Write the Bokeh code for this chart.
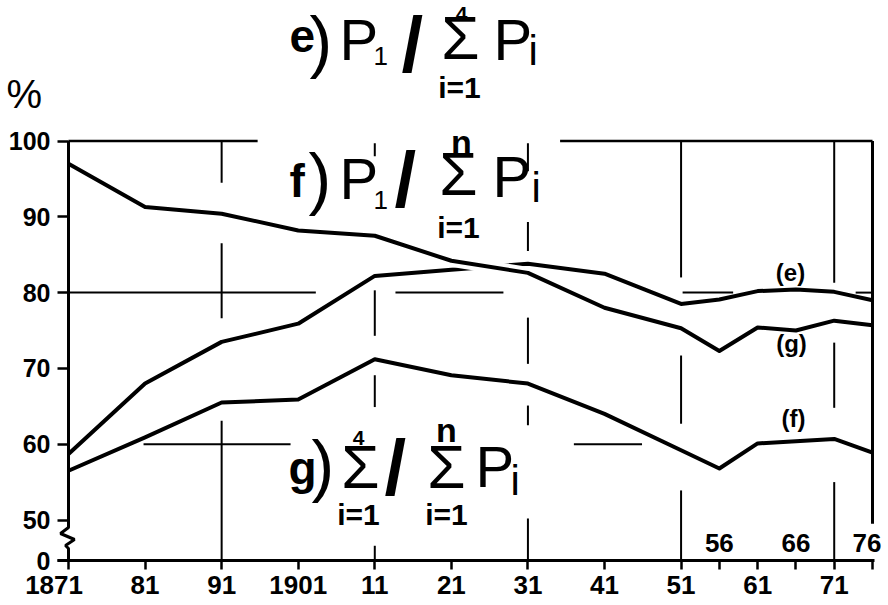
from bokeh.plotting import figure
from bokeh.models import Range1d, FixedTicker
from bokeh.core.properties import value
from bokeh.embed import file_html
from bokeh.resources import INLINE

# ---------------- data ----------------
YEARS = [1871, 1881, 1891, 1901, 1911, 1921, 1931, 1941, 1951, 1956, 1961, 1966, 1971, 1976]
# line that rises from ~59 % and ends labelled (e)
SERIES_E = [58.7, 68.0, 73.5, 75.9, 82.2, 83.0, 83.8, 82.5, 78.5, 79.1, 80.2, 80.4, 80.1, 79.0]
# line that falls from ~97 % and ends labelled (g)
SERIES_G = [97.0, 91.3, 90.4, 88.2, 87.5, 84.2, 82.6, 78.0, 75.3, 72.3, 75.4, 75.0, 76.3, 75.7]
# bottom line labelled (f)
SERIES_F = [56.5, 60.9, 65.5, 65.9, 71.2, 69.1, 68.0, 64.0, 59.2, 56.8, 60.1, 60.4, 60.7, 58.9]

NBSP = "\u00a0"
X_TICKS = [1871, 1881, 1891, 1901, 1911, 1921, 1931, 1941, 1951, 1961, 1971, 1956, 1966, 1976]
X_TICK_LABELS = ["1871" + NBSP * 4, "81", "91", "1901", "11", "21", "31", "41", "51", "61", "71", "", "", ""]
X_UPPER_TICKS = [1956, 1966, 1976]
X_UPPER_LABELS = ["56", "66", "76"]
Y_TICKS = [50, 60, 70, 80, 90, 100]
Y_ZERO_LABEL = "0"
UNIT_LABEL = "%"

# ---------------- layout helpers (page pixels == canvas pixels) ----------------
FONT = "Liberation Sans"
W, H = 888, 605
PXY = 804 / 105.0               # px per year  (1871 -> x=68, 1976 -> x=872)
PXV = 7.58                      # px per percent (100 -> y=140.5)


def X(img_x):
    return 1871 + (img_x - 68) / PXY


def Y(img_y):
    return 100 - (img_y - 140.5) / PXV


Y0 = Y(560)                      # broken axis: "0" sits on the x axis at y=560

# frame covers the whole canvas; axes are pinned with fixed_location
p = figure(width=W, height=H, output_backend="svg", toolbar_location=None,
           x_range=Range1d(X(0), X(W)), y_range=Range1d(Y(H), Y(0)),
           min_border_left=0, min_border_right=0, min_border_top=0, min_border_bottom=0)
p.outline_line_color = None
p.xgrid.visible = False
p.ygrid.visible = False
p.background_fill_color = "white"
p.border_fill_color = "white"

# x axis
xa = p.xaxis[0]
xa.fixed_location = Y0
xa.ticker = FixedTicker(ticks=X_TICKS)
xa.major_label_overrides = {t: l for t, l in zip(X_TICKS, X_TICK_LABELS)}
xa.axis_line_color = None
xa.major_tick_line_width = 2.5
xa.major_tick_line_color = "black"
xa.major_tick_out = 9
xa.major_tick_in = 0
xa.minor_tick_line_color = None
xa.major_label_standoff = 0
xa.major_label_text_font = FONT
xa.major_label_text_font_style = "bold"
xa.major_label_text_font_size = "26px"
xa.major_label_text_color = "black"

# y axis
ya = p.yaxis[0]
ya.fixed_location = 1871
ya.ticker = FixedTicker(ticks=[Y0] + Y_TICKS)
ya.major_label_overrides = {Y0: Y_ZERO_LABEL}
ya.axis_line_color = None
ya.major_tick_line_width = 2.5
ya.major_tick_line_color = "black"
ya.major_tick_out = 11
ya.major_tick_in = 0
ya.minor_tick_line_color = None
ya.major_label_standoff = 7
ya.major_label_text_font = FONT
ya.major_label_text_font_style = "bold"
ya.major_label_text_font_size = "25px"
ya.major_label_text_color = "black"

# ---------------- frame pieces (decoration) ----------------
p.segment(x0=[X(57)], y0=[Y0], x1=[X(874)], y1=[Y0], line_color="black", line_width=3)
spine_pts = [(0, 140.5), (0, 527), (-8, 533), (6, 539), (-3, 545), (0, 548), (0, 560)]
p.line([X(68 + dx) for dx, _ in spine_pts], [Y(yy) for _, yy in spine_pts],
       line_color="black", line_width=3)
p.segment(x0=[1976], y0=[100], x1=[1976], y1=[49.5], line_color="black", line_width=3)
p.segment(x0=[1871, 1935.2], y0=[100, 100], x1=[1895.7, 1976], y1=[100, 100],
          line_color="black", line_width=2.5)

GRID_V = [(1891, 100, 94.5), (1891, 86.5, 76.6), (1891, 63.1, Y0),
          (1911, 99.7, 98.0), (1911, 80.3, 74.3), (1911, 69.1, 64.9), (1911, 46.6, Y0),
          (1931, 99.7, 96.0), (1931, 89.3, 85.5), (1931, 76.7, 70.6), (1931, 65.1, 62.5), (1931, 50.2, Y0),
          (1951, 100, 82.0), (1951, 71.7, 62.7), (1951, 53.9, Y0),
          (1971, 100, 81.3), (1971, 73.4, 64.8), (1971, 55.0, Y0)]
GRID_H = [(80, 1871, 1903.3), (80, 1913.7, 1927.8), (80, 1951.2, 1957.8), (80, 1973.8, 1976),
          (60, 1880.8, 1900.0), (60, 1937.0, 1945.9)]
p.segment(x0=[g[0] for g in GRID_V], y0=[g[1] for g in GRID_V],
          x1=[g[0] for g in GRID_V], y1=[g[2] for g in GRID_V],
          line_color="black", line_width=2)
p.segment(x0=[g[1] for g in GRID_H], y0=[g[0] for g in GRID_H],
          x1=[g[2] for g in GRID_H], y1=[g[0] for g in GRID_H],
          line_color="black", line_width=2)

# ---------------- series ----------------
LW = 4
p.line(YEARS, SERIES_F, line_color="black", line_width=LW, line_join="round")
p.line(YEARS, SERIES_E, line_color="black", line_width=LW, line_join="round")
p.line(YEARS[5:7], SERIES_G[5:7], line_color="white", line_width=12)   # crossing gap
p.line(YEARS, SERIES_G, line_color="black", line_width=LW, line_join="round")


# ---------------- texts ----------------
K_MID = 0.42   # distance from bokeh's "middle" anchor down to the baseline, in em


def put(txt, xi, base_y, size, bold=False, align="left"):
    # base_y: wanted baseline in page pixels
    p.text(x=[X(xi)], y=[Y(base_y - K_MID * size)], text=[txt], text_font=value(FONT),
           text_font_size=f"{size}px", text_font_style="bold" if bold else "normal",
           text_align=align, text_baseline="middle", text_color="black")


TITLE_PIECES = [
    # e) P1 / sum_{i=1}^{4} Pi
    ("e", 289, 55, 46, True, "left"), (")", 309, 69, 68, False, "left"),
    ("P", 339, 63, 58, False, "left"), ("1", 373, 66, 26, False, "left"),
    ("/", 401, 77, 78, True, "left"), ("Σ", 460, 63, 62, False, "center"),
    ("4", 461, 22, 21, True, "center"), ("i=1", 459, 100, 30, True, "center"),
    ("P", 493, 63, 58, False, "left"), ("i", 528, 68, 42, False, "left"),
    # f) P1 / sum_{i=1}^{n} Pi
    ("f", 289, 200, 46, True, "left"), (")", 308, 206, 68, False, "left"),
    ("P", 339, 202, 58, False, "left"), ("1", 373, 210, 26, False, "left"),
    ("/", 394, 212, 78, True, "left"), ("Σ", 458, 199, 62, False, "center"),
    ("n", 461, 156, 34, True, "center"), ("i=1", 458, 240, 30, True, "center"),
    ("P", 492, 200, 58, False, "left"), ("i", 531, 205, 42, False, "left"),
    # g) sum_{i=1}^{4} / sum_{i=1}^{n} Pi
    ("g", 288, 487, 46, True, "left"), (")", 311, 493, 68, False, "left"),
    ("Σ", 360, 492, 62, False, "center"), ("4", 358, 446, 21, True, "center"),
    ("i=1", 358, 527, 30, True, "center"), ("/", 384, 500, 78, True, "left"),
    ("Σ", 446, 492, 62, False, "center"), ("n", 446, 444, 34, True, "center"),
    ("i=1", 446, 527, 30, True, "center"), ("P", 475, 490, 58, False, "left"),
    ("i", 510, 498, 42, False, "left"),
]
for piece in TITLE_PIECES:
    put(*piece)

put("(e)", 790, 282, 24, True, "center")
put("(g)", 791, 353, 24, True, "center")
put("(f)", 793, 428, 24, True, "center")
put(UNIT_LABEL, 6, 110, 40, False, "left")

# upper tick labels 56 / 66 / 76
put(X_UPPER_LABELS[2], 881, 553, 26, True, "right")
p.text(x=X_UPPER_TICKS[:2], y=[Y(553 - K_MID * 26)] * 2, text=X_UPPER_LABELS[:2],
       text_font=value(FONT), text_font_size="26px", text_font_style="bold",
       text_align="center", text_baseline="middle", text_color="black")

open("out.html", "w").write(file_html(p, INLINE))
